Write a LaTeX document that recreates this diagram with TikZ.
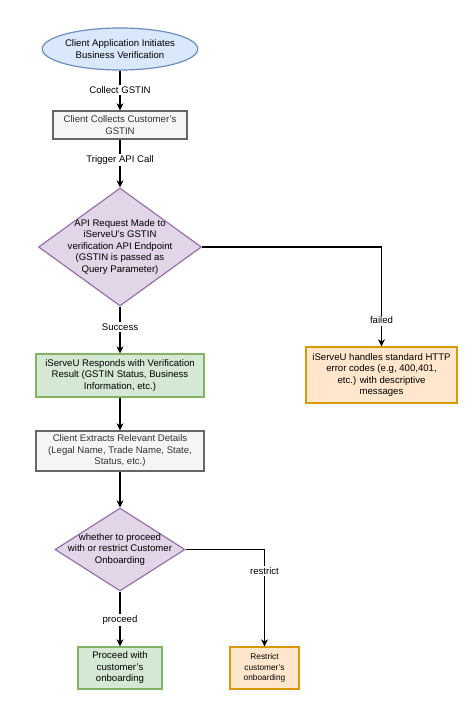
\documentclass[tikz,border=0pt]{standalone}
\usepackage{fontspec}
\setmainfont{Liberation Sans}
\usetikzlibrary{shapes.geometric,arrows.meta}
\definecolor{blueF}{HTML}{DAE8FC}\definecolor{blueD}{HTML}{6C8EBF}
\definecolor{grayF}{HTML}{F5F5F5}\definecolor{grayD}{HTML}{666666}\definecolor{grayT}{HTML}{333333}
\definecolor{purpF}{HTML}{E1D5E7}\definecolor{purpD}{HTML}{9673A6}
\definecolor{greenF}{HTML}{D5E8D4}\definecolor{greenD}{HTML}{82B366}
\definecolor{orF}{HTML}{FFE6CC}\definecolor{orD}{HTML}{D79B00}
\tikzset{
  x=1pt,y=-1pt,
  base/.style={line width=1.2pt,inner sep=0pt,align=center,font=\fontsize{9.6}{11.5}\selectfont},
  startnode/.style={base,ellipse,draw=blueD,fill=blueF},
  graybox/.style={base,rectangle,draw=grayD,fill=grayF,text=grayT},
  greenbox/.style={base,rectangle,draw=greenD,fill=greenF},
  orangebox/.style={base,rectangle,draw=orD,fill=orF},
  decision/.style={base,diamond,draw=purpD,fill=purpF},
  txt/.style={inner sep=0pt,align=center,font=\fontsize{9.6}{11.5}\selectfont},
  conn/.style={line width=1.3pt,-{Stealth[length=7pt,width=7pt,inset=2pt]}},
  elabel/.style={fill=white,inner sep=1.5pt,font=\fontsize{9.6}{11.5}\selectfont},
}
\begin{document}
\begin{tikzpicture}
\useasboundingbox (0,0) rectangle (474,724);
\fill[white] (0,0) rectangle (474,724);
\node[startnode,minimum width=130pt,minimum height=42pt] (start) at (120,49) {Client Application Initiates\\Business Verification};
\node[graybox,minimum width=134pt,minimum height=28pt] (collect) at (120,125) {Client Collects Customer's\\GSTIN};
\node[decision,minimum width=163pt,minimum height=118pt] (api) at (120,247) {};
\node[txt] (apit) at (120,247) {API Request Made to\\iServeU's GSTIN\\verification API Endpoint\\(GSTIN is passed as\\Query Parameter)};
\node[greenbox,minimum width=168pt,minimum height=43pt] (resp) at (120,375.5) {iServeU Responds with Verification\\Result (GSTIN Status, Business\\Information, etc.)};
\node[orangebox,minimum width=151pt,minimum height=56pt] (err) at (381.5,375) {iServeU handles standard HTTP\\error codes (e.g, 400,401,\\etc.) with descriptive\\messages};
\node[graybox,minimum width=168pt,minimum height=40pt] (extract) at (120,451) {Client Extracts Relevant Details\\(Legal Name, Trade Name, State,\\Status, etc.)};
\node[decision,minimum width=130pt,minimum height=83pt] (dec) at (120,549.5) {};
\node[txt] (dect) at (120,549.5) {whether to proceed\\with or restrict Customer\\Onboarding};
\node[greenbox,minimum width=84pt,minimum height=42pt] (proc) at (120,668) {Proceed with\\customer's\\onboarding};
\node[orangebox,minimum width=69pt,minimum height=42pt,font=\fontsize{8.3}{10.3}\selectfont] (restr) at (264.5,668) {Restrict\\customer's\\onboarding};

\draw[conn] (start) -- node[elabel,pos=0.48] (l1) {Collect GSTIN} (collect);
\draw[conn] (collect) -- node[elabel,pos=0.43] (l2) {Trigger API Call} (api);
\draw[conn] (api) -- node[elabel,pos=0.43] (l3) {Success} (resp);
\draw[conn] (api.east) -| node[elabel,pos=0.87] (l4) {failed} (err.north);
\draw[conn] (resp) -- (extract);
\draw[conn] (extract) -- (dec);
\draw[conn] (dec) -- node[elabel,pos=0.52] (l5) {proceed} (proc);
\draw[conn] (dec.east) -| node[elabel,pos=0.61] (l6) {restrict} (restr.north);
\end{tikzpicture}
\end{document}
